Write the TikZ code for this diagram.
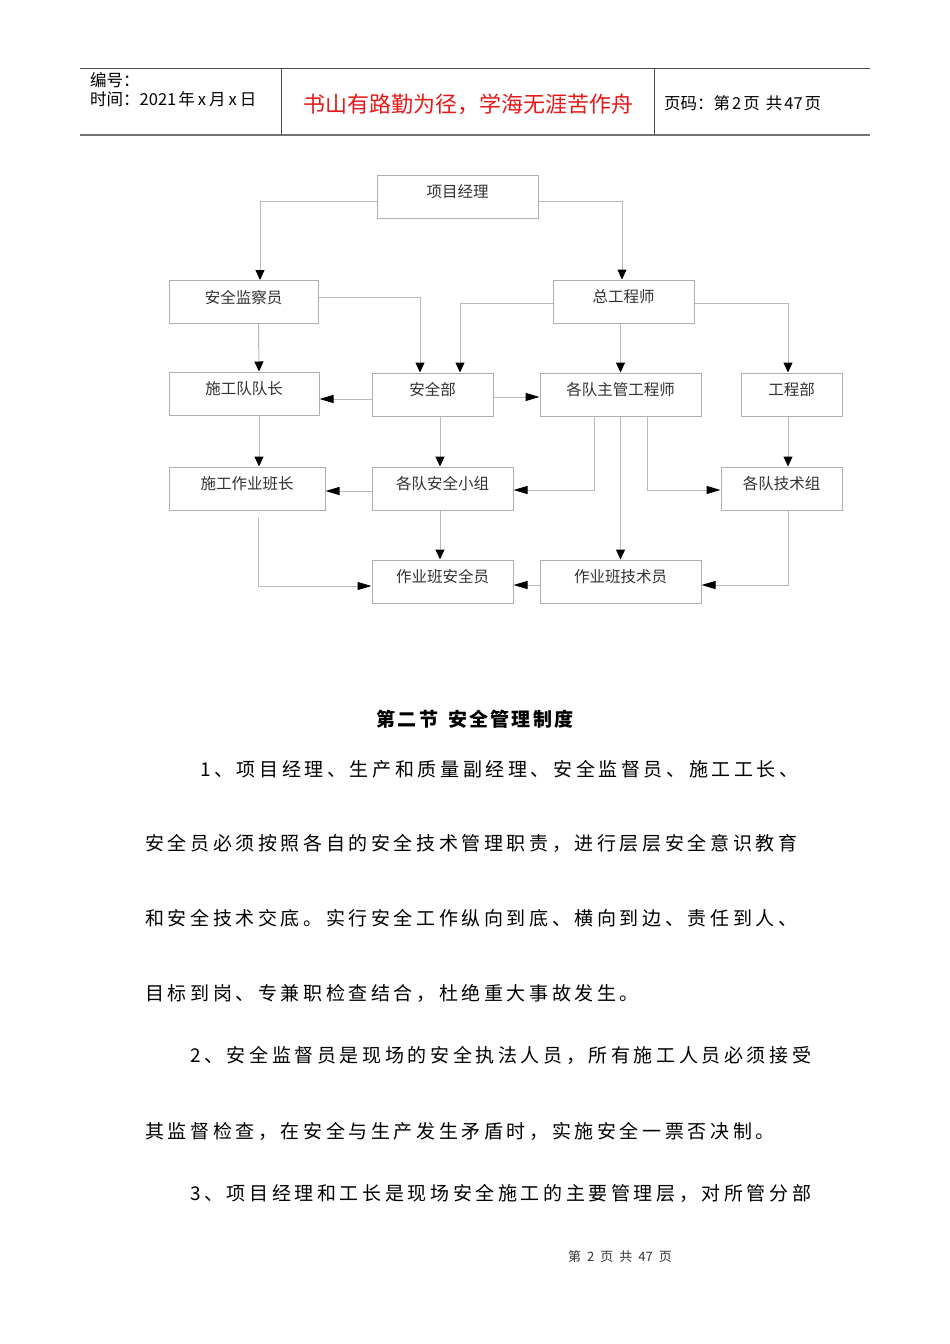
\documentclass[tikz,border=0pt]{standalone}
\usepackage{fontspec}
\usepackage{tikz}
\usetikzlibrary{arrows.meta}
\newfontfamily\cjk{Noto Sans CJK SC}
\newfontfamily\bodyfont[LetterSpace=19]{Noto Sans CJK SC}
\newfontfamily\titlefont[LetterSpace=12]{Noto Sans CJK SC}
\definecolor{boxgray}{RGB}{175,175,175}
\definecolor{linegray}{RGB}{185,185,185}
\definecolor{boxtext}{RGB}{50,50,50}
\definecolor{mottored}{RGB}{230,25,25}
\tikzset{
  box/.style={draw=boxgray, line width=1pt, minimum height=43pt, inner sep=0pt,
    text height=11pt, text depth=8.5pt, text=boxtext,
    font=\cjk\fontsize{15.5pt}{18pt}\selectfont},
  arrv/.style={draw=linegray, line width=1pt, -{Triangle[length=10pt,width=9pt,color=black]}},
  arrh/.style={draw=linegray, line width=1pt, -{Triangle[length=14pt,width=8pt,color=black]}},
  para/.style={anchor=base west, inner sep=0pt, font=\bodyfont\fontsize{19pt}{19pt}\selectfont},
  head/.style={anchor=base west, inner sep=0pt, font=\cjk\fontsize{16.5pt}{18pt}\selectfont}
}
\begin{document}
\begin{tikzpicture}[x=1pt,y=-1pt]
\useasboundingbox[fill=white] (0,0) rectangle (950,1344);
\draw[line width=1pt, black!70] (80,68) -- (870,68);
\draw[line width=1.5pt, black!55] (80,135) -- (870,135);
\draw[line width=1pt, black!70] (281,68) -- (281,135) (654,68) -- (654,135);
\node[head] (bianhao) at (90,86) {编号：};
\node[head] (shijian) at (90,105) {时间：2021\hspace{2pt}年\hspace{3pt}x\hspace{3pt}月\hspace{3pt}x\hspace{3pt}日};
\node[inner sep=0pt, anchor=base, text=mottored, font=\cjk\fontsize{22pt}{24pt}\selectfont] (motto) at (468,112) {书山有路勤为径，学海无涯苦作舟};
\node[head] (yema) at (664,109) {页码：第\hspace{2pt}2\hspace{2pt}页\hspace{6pt}共\hspace{2pt}47\hspace{2pt}页};

\node[box, minimum width=161pt] (pm) at (457.5,196.5) {项目经理};
\node[box, minimum width=149pt] (sjc) at (243.5,302) {安全监察员};
\node[box, minimum width=141pt] (zgc) at (623.5,301.5) {总工程师};
\node[box, minimum width=150pt] (sdz) at (244,393.5) {施工队队长};
\node[box, minimum width=121pt] (aqb) at (432.5,394.5) {安全部};
\node[box, minimum width=161pt] (zggcs) at (620.5,394.5) {各队主管工程师};
\node[box, minimum width=101pt] (gcb) at (791.5,394.5) {工程部};
\node[box, minimum width=156pt] (bz) at (247,488.5) {施工作业班长};
\node[box, minimum width=141pt] (aqxz) at (442.5,488.5) {各队安全小组};
\node[box, minimum width=121pt] (jsz) at (781.5,488.5) {各队技术组};
\node[box, minimum width=141pt] (aqy) at (442.5,581.5) {作业班安全员};
\node[box, minimum width=161pt] (jsy) at (620.5,581.5) {作业班技术员};

\draw[arrv] ([yshift=-4.5pt]pm.west) -| ([xshift=16.5pt]sjc.north);
\draw[arrv] ([yshift=-4.5pt]pm.east) -| ([xshift=-1.5pt]zgc.north);
\draw[arrv] ([yshift=5pt]sjc.east) -| ([xshift=-12.5pt]aqb.north);
\draw[arrv] ([yshift=-1.5pt]zgc.west) -| ([xshift=27.5pt]aqb.north);
\draw[arrv] (zggcs.north |- zgc.south) -- (zggcs.north);
\draw[arrv] ([yshift=-1.5pt]zgc.east) -| ([xshift=-3.5pt]gcb.north);
\draw[arrv] ([xshift=15pt]sjc.south) -- ([xshift=15pt]sdz.north);
\draw[arrh] ([yshift=-4.5pt]aqb.west) -- ([yshift=-5.5pt]sdz.east);
\draw[arrh] ([yshift=-2.5pt]aqb.east) -- ([yshift=-2.5pt]zggcs.west);
\draw[arrv] ([xshift=7.5pt]aqb.south) -- ([xshift=-2.5pt]aqxz.north);
\draw[arrv] ([xshift=15pt]sdz.south) -- ([xshift=12pt]bz.north);
\draw[arrh] ([yshift=-2.5pt]aqxz.west) -- ([yshift=-2.5pt]bz.east);
\draw[arrh] ([xshift=-26.5pt]zggcs.south) |- ([yshift=-1.5pt]aqxz.east);
\draw[arrh] ([xshift=26.5pt]zggcs.south) |- ([yshift=-1.5pt]jsz.west);
\draw[arrv] (zggcs.south) -- (jsy.north);
\draw[arrv] ([xshift=-3.5pt]gcb.south) -- ([xshift=6.5pt]jsz.north);
\draw[arrh] ([xshift=11pt,yshift=-7pt]bz.south) |- ([yshift=-4.5pt]aqy.west);
\draw[arrv] ([xshift=-2.5pt]aqxz.south) -- ([xshift=-2.5pt]aqy.north);
\draw[arrh] ([yshift=-3.5pt]jsy.west) -- ([yshift=-3.5pt]aqy.east);
\draw[arrh] ([xshift=6.5pt]jsz.south) |- ([yshift=-3.5pt]jsy.east);

\node[inner sep=0pt, anchor=base, font=\titlefont\bfseries\fontsize{19pt}{19pt}\selectfont] (title) at (475,726) {第二节\hspace{10pt}安全管理制度};
\node[para] (l1) at (200,776) {1、项目经理、生产和质量副经理、安全监督员、施工工长、};
\node[para] (l2) at (145,850) {安全员必须按照各自的安全技术管理职责，进行层层安全意识教育};
\node[para] (l3) at (145,925) {和安全技术交底。实行安全工作纵向到底、横向到边、责任到人、};
\node[para] (l4) at (145,1000) {目标到岗、专兼职检查结合，杜绝重大事故发生。};
\node[para] (l5) at (190,1062) {2、安全监督员是现场的安全执法人员，所有施工人员必须接受};
\node[para] (l6) at (145,1138) {其监督检查，在安全与生产发生矛盾时，实施安全一票否决制。};
\node[para] (l7) at (190,1200) {3、项目经理和工长是现场安全施工的主要管理层，对所管分部};
\node[inner sep=0pt, anchor=base, text=black!80, font=\cjk\fontsize{13pt}{15pt}\selectfont] (footer) at (620,1261) {第\hspace{6pt}2\hspace{6pt}页\hspace{6pt}共\hspace{6pt}47\hspace{6pt}页};
\end{tikzpicture}
\end{document}
